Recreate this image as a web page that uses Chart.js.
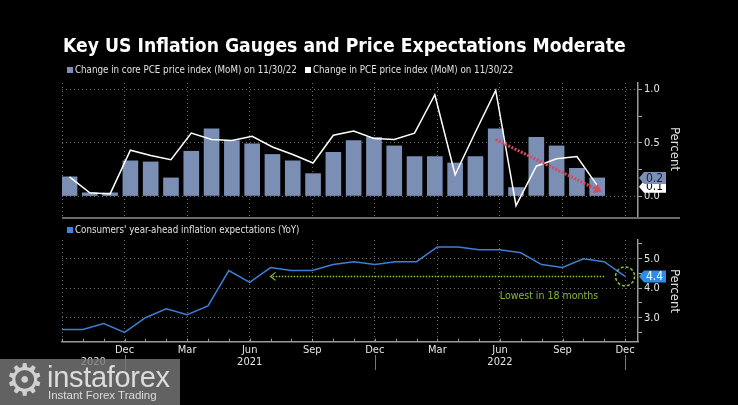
<!DOCTYPE html>
<html><head><meta charset="utf-8">
<script src="https://cdn.jsdelivr.net/npm/chart.js@4"></script>
<style>
html,body{margin:0;padding:0;background:#000;}
#wrap{position:relative;width:738px;height:405px;overflow:hidden;background:#000;font-family:"DejaVu Sans Condensed","DejaVu Sans",sans-serif;color:#e6e6e6;}
canvas{position:absolute;left:0;top:0;}
.t{position:absolute;white-space:nowrap;}
#title{left:63px;top:34px;font-size:19.2px;font-weight:bold;color:#fff;}
.leg{font-size:9.7px;color:#e0e0e0;line-height:10px;}
.sq{position:absolute;width:6px;height:6px;}
#sep{position:absolute;left:62px;top:217px;width:618px;height:2px;background:#6a6a6a;}
#wm{position:absolute;left:0;top:359px;width:180px;height:46px;background:rgba(120,120,120,0.82);}
#wm .g{position:absolute;left:5px;top:-3px;font-family:"DejaVu Sans";font-size:44px;color:#d0d0d0;line-height:48px;}
#wm .b{position:absolute;left:47px;top:3px;font-family:"Liberation Sans",Arial,sans-serif;font-size:29px;color:#dcdcdc;line-height:30px;letter-spacing:-0.3px;}
#wm .s{position:absolute;left:48px;top:30px;font-family:"Liberation Sans",Arial,sans-serif;font-size:11.5px;color:#dcdcdc;line-height:13px;}
</style></head>
<body>
<div id="wrap">
<canvas id="c1" width="738" height="405"></canvas>
<canvas id="c2" width="738" height="405"></canvas>
<div id="title" class="t">Key US Inflation Gauges and Price Expectations Moderate</div>
<div class="sq" style="left:67px;top:67px;background:#7b8eb3"></div>
<div class="t leg" style="left:75px;top:65px">Change in core PCE price index (MoM) on 11/30/22</div>
<div class="sq" style="left:305px;top:67px;background:#fff"></div>
<div class="t leg" style="left:313px;top:65px">Change in PCE price index (MoM) on 11/30/22</div>
<div id="sep"></div>
<div class="sq" style="left:67px;top:227px;background:#3f86df"></div>
<div class="t leg" style="left:75px;top:225px">Consumers' year-ahead inflation expectations (YoY)</div>
<div id="wm"><div class="g">⚙</div><div class="b">instaforex</div><div class="s">Instant Forex Trading</div></div>
</div>
<script>
// ---- data ----
const pceMonths = ['Sep 2020','Oct 2020','Nov 2020','Dec 2020','Jan 2021','Feb 2021','Mar 2021','Apr 2021','May 2021','Jun 2021','Jul 2021','Aug 2021','Sep 2021','Oct 2021','Nov 2021','Dec 2021','Jan 2022','Feb 2022','Mar 2022','Apr 2022','May 2022','Jun 2022','Jul 2022','Aug 2022','Sep 2022','Oct 2022','Nov 2022'];
const corePCE = [0.18,0.03,0.03,0.33,0.32,0.17,0.42,0.63,0.52,0.49,0.39,0.33,0.21,0.41,0.52,0.55,0.47,0.37,0.37,0.31,0.37,0.63,0.08,0.55,0.47,0.26,0.17];
const headlinePCE = [0.18,0.03,0.02,0.43,0.38,0.34,0.59,0.53,0.52,0.56,0.46,0.39,0.31,0.57,0.61,0.54,0.53,0.59,0.95,0.20,0.60,0.99,-0.09,0.28,0.35,0.37,0.10];
const expMonths = ['Sep 2020','Oct 2020','Nov 2020','Dec 2020','Jan 2021','Feb 2021','Mar 2021','Apr 2021','May 2021','Jun 2021','Jul 2021','Aug 2021','Sep 2021','Oct 2021','Nov 2021','Dec 2021','Jan 2022','Feb 2022','Mar 2022','Apr 2022','May 2022','Jun 2022','Jul 2022','Aug 2022','Sep 2022','Oct 2022','Nov 2022','Dec 2022'];
const expectations = [2.6,2.6,2.8,2.5,3.0,3.3,3.1,3.4,4.6,4.2,4.7,4.6,4.6,4.8,4.9,4.8,4.9,4.9,5.4,5.4,5.3,5.3,5.2,4.8,4.7,5.0,4.9,4.4];
const axisMonthLabels = ['','Dec','Mar','Jun','Sep','Dec','Mar','Jun','Sep','Dec'];
const yearLabels = ['2020','2021','2022'];
const topTicks = [0,0.25,0.5,0.75,1.0];
const bottomTicks = [2.5,3.0,3.5,4.0,4.5,5.0,5.5];

const FONT = '"DejaVu Sans Condensed","DejaVu Sans",sans-serif';
const GRID = '#6a6a6a';
const quarterly = axisMonthLabels.map((l,i)=>({value:i*3}));

function tag(ctx, x, y, text, bg, fg){
  const w=27,h=12;
  ctx.beginPath();
  ctx.moveTo(x,y); ctx.lineTo(x+5,y-h/2); ctx.lineTo(x+w,y-h/2); ctx.lineTo(x+w,y+h/2); ctx.lineTo(x+5,y+h/2); ctx.closePath();
  ctx.fillStyle=bg; ctx.fill();
  ctx.fillStyle=fg; ctx.font='12px '+FONT; ctx.textAlign='center'; ctx.textBaseline='middle';
  ctx.fillText(text, x+w/2+2, y+0.5);
}
function percent(ctx, x, y){
  ctx.save(); ctx.translate(x,y); ctx.rotate(Math.PI/2);
  ctx.fillStyle='#e0e0e0'; ctx.font='13px '+FONT; ctx.textAlign='center'; ctx.textBaseline='middle';
  ctx.fillText('Percent',0,0); ctx.restore();
}

// ---- top chart ----
new Chart(document.getElementById('c1'), {
  type:'bar',
  data:{datasets:[
    {type:'line', label:'Change in PCE price index (MoM) on 11/30/22', data: headlinePCE.map((v,i)=>({x:i,y:v})), borderColor:'#ffffff', borderWidth:1.5, pointRadius:0, tension:0, order:0, xAxisID:'x', yAxisID:'y'},
    {type:'bar', label:'Change in core PCE price index (MoM) on 11/30/22', data: corePCE.map((v,i)=>({x:i,y:v})), backgroundColor:'#7b8eb3', barThickness:15, order:1, xAxisID:'x', yAxisID:'y'}
  ]},
  options:{
    responsive:false, animation:false, events:[],
    layout:{padding:{left:62,top:83,bottom:187,right:0}},
    plugins:{legend:{display:false},tooltip:{enabled:false}},
    scales:{
      x:{type:'linear', min:-0.37, max:28.01, display:false, offset:false, grid:{offset:false}},
      xg:{type:'linear', position:'bottom', min:0, max:27.62, offset:false,
        afterBuildTicks:s=>{s.ticks=quarterly.map(t=>({value:t.value}));},
        ticks:{display:false}, grid:{color:GRID, drawTicks:false, offset:false}, border:{display:false, dash:[1,3]},
        afterFit:s=>{s.height=0;}},
      y:{position:'right', min:-0.206, max:1.06,
        afterBuildTicks:s=>{s.ticks=topTicks.map(v=>({value:v}));},
        afterFit:s=>{s.width=100;},
        ticks:{color:'#e6e6e6', font:{size:11,family:FONT}, padding:2, callback:v=> (v===0||v===0.5||v===1)? v.toFixed(1):''},
        grid:{color:c=>{const v=c.tick?c.tick.value:0; return (v===0||v===0.5||v===1)?GRID:'rgba(0,0,0,0)';}, tickColor:'#aaaaaa', tickLength:4},
        border:{display:true, color:'#9a9a9a', width:1.5, dash:[1,3]}}
    }
  },
  plugins:[{id:'ann1', afterDraw(chart){
    const ctx=chart.ctx, xs=chart.scales.x, ys=chart.scales.y;
    const x1=xs.getPixelForValue(21), y1=ys.getPixelForValue(0.53), x2=xs.getPixelForValue(25.9), y2=ys.getPixelForValue(0.07);
    ctx.save();
    ctx.strokeStyle='#d8475f'; ctx.lineWidth=3; ctx.setLineDash([2,1.5]);
    ctx.beginPath(); ctx.moveTo(x1,y1); ctx.lineTo(x2,y2); ctx.stroke();
    ctx.setLineDash([]);
    const a=Math.atan2(y2-y1,x2-x1);
    ctx.fillStyle='#d8475f'; ctx.beginPath();
    ctx.moveTo(x2+7*Math.cos(a), y2+7*Math.sin(a));
    ctx.lineTo(x2+5*Math.cos(a+Math.PI/2), y2+5*Math.sin(a+Math.PI/2));
    ctx.lineTo(x2+5*Math.cos(a-Math.PI/2), y2+5*Math.sin(a-Math.PI/2));
    ctx.closePath(); ctx.fill();
    ctx.restore();
    const n=corePCE.length-1;
    tag(ctx, 639, ys.getPixelForValue(headlinePCE[n])+1.5, headlinePCE[n].toFixed(1), '#ffffff', '#000000');
    tag(ctx, 639, ys.getPixelForValue(corePCE[n]), corePCE[n].toFixed(1), '#7b8eb3', '#0d1f42');
    percent(ctx, 674, 149);
  }}]
});

// ---- bottom chart ----
new Chart(document.getElementById('c2'), {
  type:'line',
  data:{datasets:[
    {label:"Consumers' year-ahead inflation expectations (YoY)", data: expectations.map((v,i)=>({x:i,y:v})), borderColor:'#3d7fd6', borderWidth:1.5, pointRadius:0, tension:0}
  ]},
  options:{
    responsive:false, animation:false, events:[],
    layout:{padding:{left:62,top:240,bottom:0,right:0}},
    plugins:{legend:{display:false},tooltip:{enabled:false}},
    scales:{
      x:{type:'linear', min:0, max:27.62, offset:false,
        afterBuildTicks:s=>{s.ticks=quarterly.map(t=>({value:t.value}));},
        afterFit:s=>{s.height=63.3;},
        ticks:{color:'#e6e6e6', font:{size:11,family:FONT}, padding:2, maxRotation:0, autoSkip:false, callback:(v,i)=>axisMonthLabels[i]},
        grid:{color:GRID, drawTicks:false}, border:{display:true, color:'#9a9a9a', width:1.5, dash:[1,3]}},
      y:{position:'right', min:2.186, max:5.634,
        afterBuildTicks:s=>{s.ticks=bottomTicks.map(v=>({value:v}));},
        afterFit:s=>{s.width=100;},
        ticks:{color:'#e6e6e6', font:{size:11,family:FONT}, padding:2, callback:v=> Number.isInteger(v)? v.toFixed(1):''},
        grid:{color:c=>{const v=c.tick?c.tick.value:0; return Number.isInteger(v)?GRID:'rgba(0,0,0,0)';}, tickColor:'#aaaaaa', tickLength:4},
        border:{display:true, color:'#9a9a9a', width:1.5, dash:[1,3]}}
    }
  },
  plugins:[{id:'ann2', afterDraw(chart){
    const ctx=chart.ctx, xs=chart.scales.x, ys=chart.scales.y, ca=chart.chartArea;
    const n=expectations.length-1;
    ctx.save();
    ctx.strokeStyle='#9a9a9a'; ctx.lineWidth=1;
    expMonths.forEach((m,i)=>{const x=Math.round(xs.getPixelForValue(i))+0.5; ctx.beginPath(); ctx.moveTo(x,ca.bottom); ctx.lineTo(x,ca.bottom-3); ctx.stroke();});
    [3,15,27].forEach(v=>{const x=Math.round(xs.getPixelForValue(v))+0.5; ctx.strokeStyle='#777'; ctx.beginPath(); ctx.moveTo(x,355); ctx.lineTo(x,370); ctx.stroke();});
    ctx.fillStyle='#e6e6e6'; ctx.font='11px '+FONT; ctx.textAlign='center'; ctx.textBaseline='middle';
    [1.5,9,21].forEach((v,i)=>ctx.fillText(yearLabels[i], xs.getPixelForValue(v), 362.5));
    const g='#8cc23f';
    const yv=ys.getPixelForValue(expectations[n]);
    const xa=xs.getPixelForValue(10), xb=xs.getPixelForValue(26);
    ctx.strokeStyle=g; ctx.lineWidth=1.5; ctx.setLineDash([1.5,1.5]);
    ctx.beginPath(); ctx.moveTo(xb,yv); ctx.lineTo(xa,yv); ctx.stroke();
    ctx.setLineDash([]); ctx.lineWidth=1.2;
    ctx.beginPath(); ctx.moveTo(xa+5,yv-4); ctx.lineTo(xa,yv); ctx.lineTo(xa+5,yv+4); ctx.stroke();
    ctx.setLineDash([3,2]); ctx.lineWidth=1.5;
    ctx.beginPath(); ctx.arc(xs.getPixelForValue(n), yv, 9.5, 0, Math.PI*2); ctx.stroke();
    ctx.setLineDash([]);
    ctx.fillStyle='#86b83c'; ctx.font='10.5px '+FONT; ctx.textAlign='center'; ctx.textBaseline='middle';
    ctx.fillText('Lowest in 18 months', xs.getPixelForValue(23.35), ys.getPixelForValue(3.73));
    ctx.restore();
    tag(ctx, 639, yv, expectations[n].toFixed(1), '#2d8ce6', '#ffffff');
    percent(ctx, 674, 291);
  }}]
});
</script>
</body></html>
